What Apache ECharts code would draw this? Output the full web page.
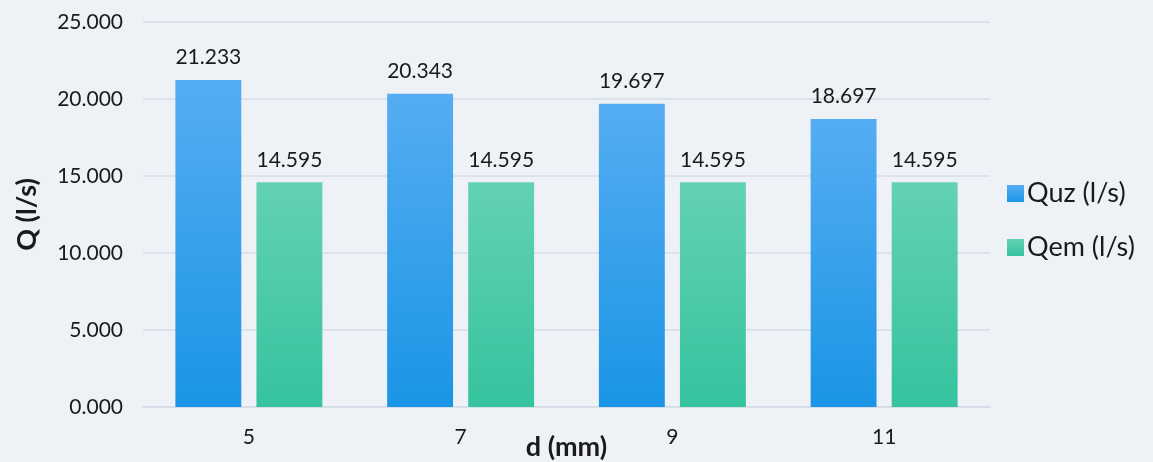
<!DOCTYPE html>
<html>
<head>
<meta charset="utf-8">
<script src="https://cdn.jsdelivr.net/npm/echarts@6/dist/echarts.min.js"></script>
<style>
  html, body { margin: 0; padding: 0; background: #eef1f6; }
  #chart { width: 1153px; height: 462px; }
</style>
</head>
<body>
<div id="chart"></div>
<script>
// 数据
const categories = ['5', '7', '9', '11'];
const quzData = [21.233, 20.343, 19.697, 18.697];
const qemData = [14.595, 14.595, 14.595, 14.595];
const seriesNames = ['Quz (l/s)', 'Qem (l/s)'];

const fontFamily = 'Lato, "DejaVu Sans", sans-serif';

function grad(top, bottom) {
  return new echarts.graphic.LinearGradient(0, 0, 0, 1, [
    { offset: 0, color: top },
    { offset: 1, color: bottom }
  ]);
}

const chart = echarts.init(document.getElementById('chart'), null, { renderer: 'canvas' });

const option = {
  backgroundColor: '#eef1f6',
  animation: false,
  textStyle: { fontFamily: fontFamily },
  grid: {
    left: 143,
    right: 163,
    top: 22,
    bottom: 55,
    outerBoundsMode: 'none',
    containLabel: false
  },
  legend: {
    orient: 'vertical',
    left: 1002,
    top: 175,
    itemWidth: 17,
    itemHeight: 17,
    itemGap: 27,
    itemStyle: { borderWidth: 0 },
    icon: 'rect',
    data: seriesNames,
    textStyle: { fontSize: 27, color: '#1a1a1a', fontFamily: fontFamily, padding: [0, 0, 0, -2] }
  },
  xAxis: {
    type: 'category',
    data: categories,
    name: 'd (mm)',
    nameLocation: 'middle',
    nameGap: 27,
    nameMoveOverlap: false,
    nameTextStyle: { fontSize: 27, fontWeight: 'bold', color: '#1a1a1a' },
    axisTick: { show: false },
    axisLine: { lineStyle: { color: '#d6deea', width: 2 } },
    axisLabel: { fontSize: 21, color: '#1a1a1a', margin: 20 }
  },
  yAxis: {
    type: 'value',
    min: 0,
    max: 25,
    interval: 5,
    name: 'Q (l/s)',
    nameLocation: 'middle',
    nameGap: 102,
    nameTextStyle: { fontSize: 27, fontWeight: 'bold', color: '#1a1a1a' },
    axisLine: { show: false },
    axisTick: { show: false },
    splitLine: { lineStyle: { color: '#dbe2ec', width: 2 } },
    axisLabel: {
      fontSize: 21,
      color: '#1a1a1a',
      margin: 20,
      formatter: v => v.toFixed(3)
    }
  },
  series: [
    {
      name: seriesNames[0],
      type: 'bar',
      data: quzData,
      barGap: '23%',
      barCategoryGap: '30.6%',
      itemStyle: { color: grad('#55adf3', '#1a95e5') },
      label: {
        show: true,
        position: 'top',
        distance: 12,
        fontSize: 21,
        color: '#1a1a1a',
        formatter: p => p.value.toFixed(3)
      }
    },
    {
      name: seriesNames[1],
      type: 'bar',
      data: qemData,
      itemStyle: { color: grad('#63d1b5', '#36c39f') },
      label: {
        show: true,
        position: 'top',
        distance: 12,
        fontSize: 21,
        color: '#1a1a1a',
        formatter: p => p.value.toFixed(3)
      }
    }
  ]
};

chart.setOption(option);
</script>
</body>
</html>
